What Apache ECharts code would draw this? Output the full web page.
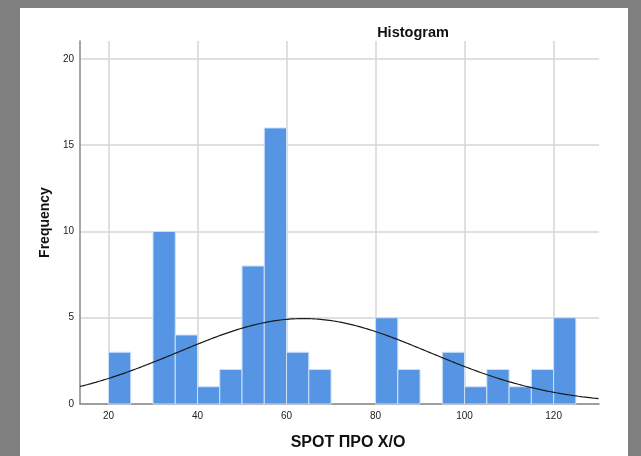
<!DOCTYPE html>
<html>
<head>
<meta charset="utf-8">
<script src="https://cdn.jsdelivr.net/npm/echarts@6/dist/echarts.min.js"></script>
<style>
  html, body { margin: 0; padding: 0; background: #808080; }
  #frame { position: absolute; left: 20px; top: 8px; width: 608px; height: 448px; background: #ffffff; }
  #chart { width: 608px; height: 448px; }
</style>
</head>
<body>
<div id="frame"><div id="chart"></div></div>
<script>
// Histogram bins (lower edge of each 5-unit bin) and their frequencies
const binStarts = [20, 25, 30, 35, 40, 45, 50, 55, 60, 65, 70, 75, 80, 85, 90, 95, 100, 105, 110, 115, 120];
const counts    = [ 3,  0, 10,  4,  1,  2,  8, 16,  3,  2,  0,  0,  5,  2,  0,  3,   1,   2,   1,   2,   5];
const binWidth = 5;

// Tick labels
const xTicks = [20, 40, 60, 80, 100, 120];
const yTicks = [0, 5, 10, 15, 20];

// Normal fit parameters for the overlay curve
const fitMean = 63.8;
const fitSd = 28.2;

const xMin = 13.6, xMax = 130.2;
const yMax = 21.04;

const total = counts.reduce((a, b) => a + b, 0);
const curve = [];
for (let x = xMin; x <= xMax + 1e-9; x += 0.5) {
  const z = (x - fitMean) / fitSd;
  const y = total * binWidth * Math.exp(-0.5 * z * z) / (fitSd * Math.sqrt(2 * Math.PI));
  curve.push([x, y]);
}

const bars = binStarts.map((s, i) => [s, counts[i]]).filter(d => d[1] > 0);

const chart = echarts.init(document.getElementById('chart'), null, { renderer: 'canvas' });
const fontFamily = 'Arial, "Liberation Sans", sans-serif';

chart.setOption({
  animation: false,
  backgroundColor: '#ffffff',
  title: {
    text: 'Histogram',
    left: 388, top: 12, textAlign: 'center',
    textStyle: { fontFamily, fontSize: 14.5, fontWeight: 'bold', color: '#111' }
  },
  grid: { left: 60, right: 29, top: 33, bottom: 51, containLabel: false },
  xAxis: {
    type: 'value', min: xMin, max: xMax,
    name: 'SPOT ΠΡΟ Χ/Ο', nameLocation: 'middle', nameGap: 31,
    nameTextStyle: { fontFamily, fontSize: 16, fontWeight: 'bold', color: '#111', padding: [0, 0, 0, 17] },
    axisLine: { show: true, lineStyle: { color: '#888', width: 1.5 } },
    axisTick: { show: false, customValues: xTicks },
    axisLabel: { customValues: xTicks, fontFamily, fontSize: 10, color: '#222', margin: 7 },
    splitLine: { show: true, lineStyle: { color: '#d6d6d6', width: 1.5 } }
  },
  yAxis: {
    type: 'value', min: 0, max: yMax,
    name: 'Frequency', nameLocation: 'middle', nameGap: 28, nameRotate: 90,
    nameTextStyle: { fontFamily, fontSize: 14, fontWeight: 'bold', color: '#111' },
    axisLine: { show: true, lineStyle: { color: '#888', width: 1.5 } },
    axisTick: { show: false, customValues: yTicks },
    axisLabel: { customValues: yTicks, fontFamily, fontSize: 10, color: '#222', margin: 6 },
    splitLine: { show: true, lineStyle: { color: '#d6d6d6', width: 1.5 } }
  },
  series: [
    {
      type: 'custom',
      data: bars,
      renderItem: function (params, api) {
        const x0 = api.value(0);
        const y = api.value(1);
        const p0 = api.coord([x0, y]);
        const p1 = api.coord([x0 + binWidth, 0]);
        return {
          type: 'rect',
          shape: { x: p0[0], y: p0[1], width: p1[0] - p0[0], height: p1[1] - p0[1] },
          style: { fill: '#5595e3', stroke: '#cfe1f7', lineWidth: 1 }
        };
      },
      z: 2
    },
    {
      type: 'line',
      data: curve,
      showSymbol: false,
      smooth: false,
      lineStyle: { color: '#1a1a1a', width: 1.2 },
      z: 3
    }
  ]
});
</script>
</body>
</html>
